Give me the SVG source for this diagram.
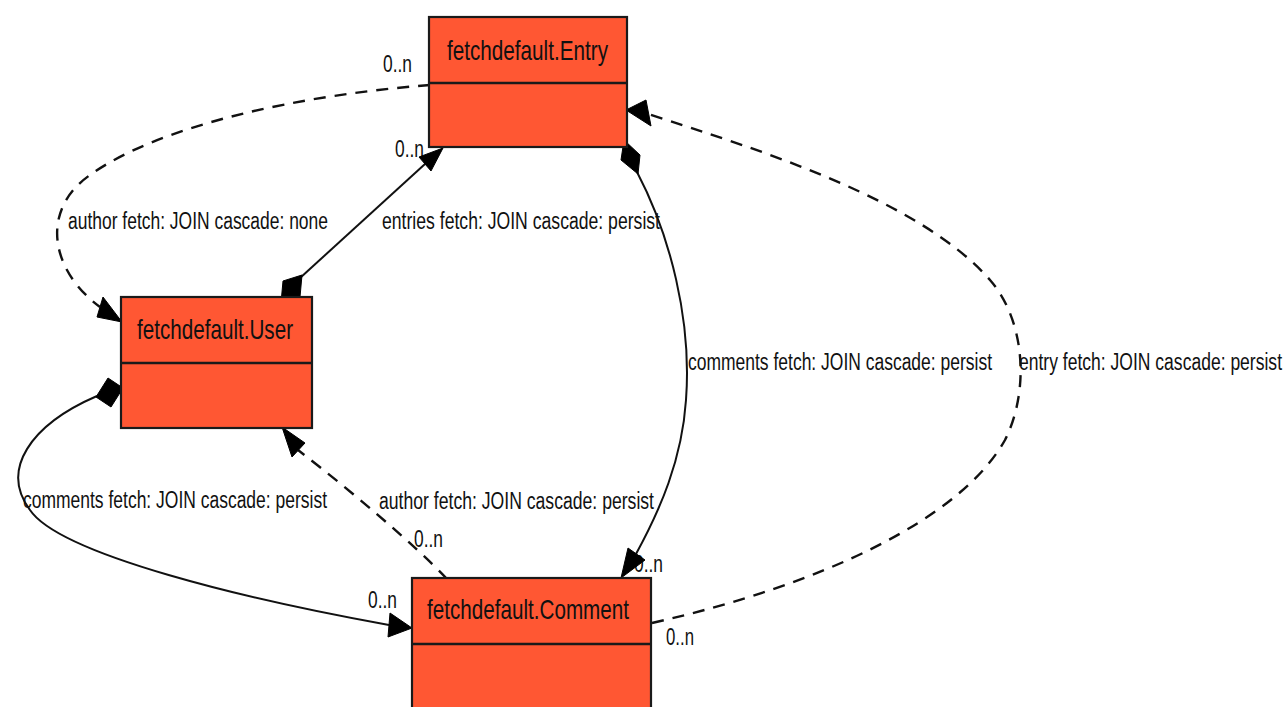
<svg xmlns="http://www.w3.org/2000/svg" width="1286" height="707" viewBox="0 0 1286 707">
<style>
.bg{fill:#ffffff}
.box{fill:#FF5733;stroke:#1a1a1a;stroke-width:2.2}
.div{stroke:#1a1a1a;stroke-width:2.6}
.title{font-family:"Liberation Sans",Arial,sans-serif;font-size:28px;fill:#111}
.lbl{font-family:"Liberation Sans",Arial,sans-serif;font-size:23px;fill:#111}
.e{fill:none;stroke:#111;stroke-width:2}
.d{stroke-dasharray:12,9;stroke-width:2.4}
.h{fill:#000;stroke:#000;stroke-width:1}
</style>
<rect class="bg" x="0" y="0" width="1286" height="707"/>
<g id="connectors">
  <g id="labels">
    <text class="lbl" x="68" y="229" textLength="260" lengthAdjust="spacingAndGlyphs">author fetch: JOIN cascade: none</text>
    <text class="lbl" x="382" y="229" textLength="278" lengthAdjust="spacingAndGlyphs">entries fetch: JOIN cascade: persist</text>
    <text class="lbl" x="688" y="370" textLength="304" lengthAdjust="spacingAndGlyphs">comments fetch: JOIN cascade: persist</text>
    <text class="lbl" x="1019" y="370" textLength="263" lengthAdjust="spacingAndGlyphs">entry fetch: JOIN cascade: persist</text>
    <text class="lbl" x="23" y="508" textLength="304" lengthAdjust="spacingAndGlyphs">comments fetch: JOIN cascade: persist</text>
    <text class="lbl" x="379" y="509" textLength="275" lengthAdjust="spacingAndGlyphs">author fetch: JOIN cascade: persist</text>
    <text class="lbl" x="383" y="72" textLength="29" lengthAdjust="spacingAndGlyphs">0..n</text>
    <text class="lbl" x="395" y="157" textLength="29" lengthAdjust="spacingAndGlyphs">0..n</text>
    <text class="lbl" x="414" y="547" textLength="29" lengthAdjust="spacingAndGlyphs">0..n</text>
    <text class="lbl" x="634" y="572" textLength="29" lengthAdjust="spacingAndGlyphs">0..n</text>
    <text class="lbl" x="368" y="608" textLength="29" lengthAdjust="spacingAndGlyphs">0..n</text>
    <text class="lbl" x="666" y="645" textLength="28" lengthAdjust="spacingAndGlyphs">0..n</text>
  </g>
  <!-- Entry -> User : author (dashed) -->
  <path class="e d" d="M430,85 C300,95 160,125 90,175 C40,210 50,270 100,307"/>
  <polygon class="h" points="122,322 97,317 103,297"/>
  <!-- User -> Entry : entries (solid, diamond at User) -->
  <path class="e" d="M300,278 L425,164"/>
  <polygon class="h" points="281,303 283,281 302,275 300,297"/>
  <polygon class="h" points="443,148 419,157 431,171"/>
  <!-- Entry -> Comment : comments (solid, diamond at Entry) -->
  <path class="e" d="M637,172 C670,235 692,320 686,400 C682,460 660,510 636,554"/>
  <polygon class="h" points="624,140 640,155 638,174 621,160"/>
  <polygon class="h" points="621,578 628,548 645,560"/>
  <!-- Comment -> Entry : entry (dashed) -->
  <path class="e d" d="M652,623 C820,585 960,520 1005,440 C1030,390 1025,320 990,280 C920,200 760,150 648,114"/>
  <polygon class="h" points="626,110 646,100 651,126"/>
  <!-- User -> Comment : comments (solid, diamond at User) -->
  <path class="e" d="M97,396 C30,425 0,470 30,510 C60,555 250,600 389,625"/>
  <polygon class="h" points="123,388 108,378 96,397 111,407"/>
  <polygon class="h" points="412,628 390,613 388,637"/>
  <!-- Comment -> User : author (dashed) -->
  <path class="e d" d="M447,579 C415,545 350,490 298,450"/>
  <polygon class="h" points="282,427 292,457 305,443"/>
</g>
<g id="node-entry">
  <rect class="box" x="429" y="17" width="198" height="130"/>
  <line class="div" x1="429" y1="83" x2="627" y2="83"/>
  <text class="title" x="447" y="60" textLength="161" lengthAdjust="spacingAndGlyphs">fetchdefault.Entry</text>
</g>
<g id="node-user">
  <rect class="box" x="121" y="297" width="191" height="131"/>
  <line class="div" x1="121" y1="363" x2="312" y2="363"/>
  <text class="title" x="137" y="339" textLength="156" lengthAdjust="spacingAndGlyphs">fetchdefault.User</text>
</g>
<g id="node-comment">
  <rect class="box" x="412" y="578" width="239" height="140"/>
  <line class="div" x1="412" y1="644" x2="651" y2="644"/>
  <text class="title" x="427" y="619" textLength="202" lengthAdjust="spacingAndGlyphs">fetchdefault.Comment</text>
</g>
</svg>
